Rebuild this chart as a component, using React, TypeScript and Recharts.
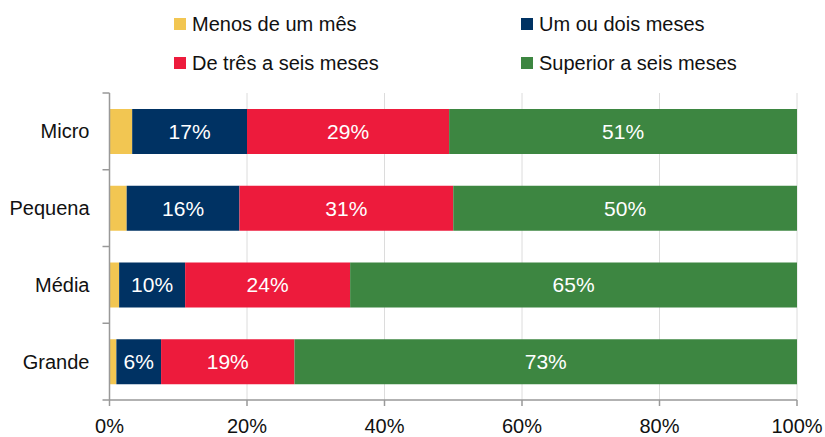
import React from 'react';
import { BarChart, Bar, XAxis, YAxis, CartesianGrid, LabelList } from 'recharts';

const categories = ['Micro', 'Pequena', 'Média', 'Grande'];
const menosUmMes = [3.3, 2.5, 1.4, 1.0];
const umOuDois = [16.7, 16.4, 9.6, 6.5];
const tresASeis = [29.4, 31.1, 24.0, 19.4];
const superiorSeis = [50.6, 50.0, 65.0, 73.1];
const umOuDoisLabels = [17, 16, 10, 6];
const tresASeisLabels = [29, 31, 24, 19];
const superiorSeisLabels = [51, 50, 65, 73];
const xTicks = [0, 20, 40, 60, 80, 100];

const seriesNames = ['Menos de um mês', 'Um ou dois meses', 'De três a seis meses', 'Superior a seis meses'];
const colors = ['#F2C652', '#003263', '#ED1B3C', '#3D8641'];

const data = categories.map((name, i) => ({
  name,
  a: menosUmMes[i],
  b: umOuDois[i],
  c: tresASeis[i],
  d: superiorSeis[i],
  bl: umOuDoisLabels[i] + '%',
  cl: tresASeisLabels[i] + '%',
  dl: superiorSeisLabels[i] + '%',
}));

const FONT = '"Liberation Sans", Arial, sans-serif';
const AXIS_COLOR = '#999';
const LABEL_GAP = 20;

const legendPos = [
  { left: 174, top: 18 },
  { left: 521, top: 18 },
  { left: 174, top: 57 },
  { left: 521, top: 57 },
];

const LegendOverlay = () => (
  <div style={{ position: 'absolute', left: 0, top: 0, width: 825, height: 90, fontFamily: FONT, pointerEvents: 'none' }}>
    {seriesNames.map((n, i) => (
      <div key={n} style={{ position: 'absolute', left: legendPos[i].left, top: legendPos[i].top, display: 'flex', alignItems: 'center', height: 12 }}>
        <div style={{ width: 12, height: 12, background: colors[i] }} />
        <span style={{ marginLeft: 6, fontSize: 20, color: '#111', whiteSpace: 'nowrap', lineHeight: '12px' }}>{n}</span>
      </div>
    ))}
  </div>
);

const CategoryTick = (props: any) => {
  const { x, y, payload, index, visibleTicksCount } = props;
  const half = payload && payload.offset ? payload.offset : 38.4;
  const axisX = x + LABEL_GAP;
  const last = (visibleTicksCount ?? categories.length) - 1;
  return (
    <g>
      <line x1={axisX} x2={axisX - 7} y1={y - half} y2={y - half} stroke={AXIS_COLOR} strokeWidth={1.5} />
      {index === last && (
        <line x1={axisX} x2={axisX - 7} y1={y + half} y2={y + half} stroke={AXIS_COLOR} strokeWidth={1.5} />
      )}
      <text x={x} y={y} dy="0.355em" textAnchor="end" fill="#111" fontSize={20} fontFamily={FONT}>
        {payload.value}
      </text>
    </g>
  );
};

export default function App() {
  return (
    <div style={{ position: 'absolute', left: 0, top: 0, width: 825, height: 437, background: '#fff' }}>
      <BarChart
        width={825}
        height={437}
        data={data}
        layout="vertical"
        margin={{ top: 93, right: 28, bottom: 7, left: 0 }}
        barCategoryGap={0}
      >
        <CartesianGrid horizontal={false} stroke="#dcdcdc" />
        <XAxis
          type="number"
          domain={[0, 100]}
          ticks={xTicks}
          tickFormatter={(v) => v + '%'}
          axisLine={{ stroke: AXIS_COLOR, strokeWidth: 1.5 }}
          tickLine={{ stroke: AXIS_COLOR, strokeWidth: 1.5 }}
          tickSize={6}
          tickMargin={13}
          height={30}
          tick={{ fill: '#111', fontSize: 20, fontFamily: FONT }}
        />
        <YAxis
          type="category"
          dataKey="name"
          width={109.5}
          axisLine={{ stroke: AXIS_COLOR, strokeWidth: 1.5 }}
          tickLine={false}
          tickSize={0}
          tickMargin={LABEL_GAP}
          interval={0}
          tick={<CategoryTick />}
        />
        <Bar dataKey="a" stackId="s" fill={colors[0]} barSize={45} isAnimationActive={false} name={seriesNames[0]} />
        <Bar dataKey="b" stackId="s" fill={colors[1]} barSize={45} isAnimationActive={false} name={seriesNames[1]}>
          <LabelList dataKey="bl" position="center" fill="#fff" fontSize={21} fontFamily={FONT} />
        </Bar>
        <Bar dataKey="c" stackId="s" fill={colors[2]} barSize={45} isAnimationActive={false} name={seriesNames[2]}>
          <LabelList dataKey="cl" position="center" fill="#fff" fontSize={21} fontFamily={FONT} />
        </Bar>
        <Bar dataKey="d" stackId="s" fill={colors[3]} barSize={45} isAnimationActive={false} name={seriesNames[3]}>
          <LabelList dataKey="dl" position="center" fill="#fff" fontSize={21} fontFamily={FONT} />
        </Bar>
      </BarChart>
      <LegendOverlay />
    </div>
  );
}
